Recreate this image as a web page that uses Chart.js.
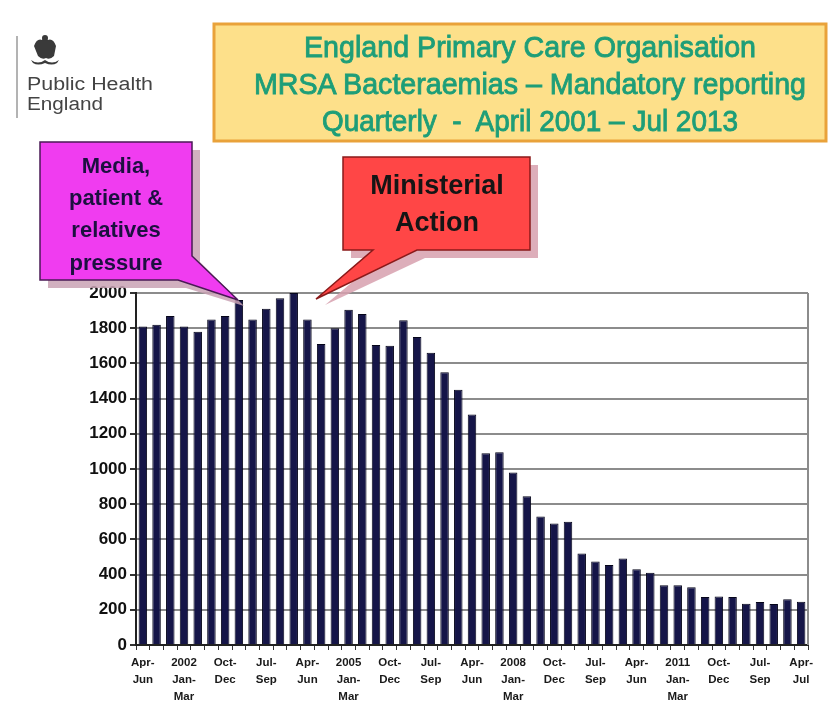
<!DOCTYPE html>
<html>
<head>
<meta charset="utf-8">
<script src="https://cdn.jsdelivr.net/npm/chart.js@4"></script>
<style>
  body { margin: 0; background: #fff; }
  #wrap { position: relative; width: 832px; height: 704px; overflow: hidden; }
  #chart { position: absolute; left: 0; top: 0; }
  #overlay { position: absolute; left: 0; top: 0; pointer-events: none; }
</style>
</head>
<body>
<div id="wrap">
  <canvas id="chart" width="832" height="704"></canvas>
  <svg id="overlay" width="832" height="704" xmlns="http://www.w3.org/2000/svg">
    <!-- logo -->
    <line x1="17" y1="36" x2="17" y2="118" stroke="#9a9a9a" stroke-width="1.5"/>
    <g fill="#3a3a3a">
      <path d="M34 46 q3 -8 8 -6 q2 -5 6 0 q5 -2 8 6 l-2 10 q-4 4 -8 2 q-4 2 -8 -2 z"/>
      <circle cx="45" cy="38" r="3"/>
      <path d="M31 60 q7 5 14 0 q7 5 14 0 l-2 3 q-5 3 -12 0 q-7 3 -12 0 z"/>
    </g>
    <text x="27" y="90" font-family="Liberation Sans, Arial, sans-serif" font-size="18" fill="#444" textLength="126" lengthAdjust="spacingAndGlyphs">Public Health</text>
    <text x="27" y="110" font-family="Liberation Sans, Arial, sans-serif" font-size="18" fill="#444" textLength="76" lengthAdjust="spacingAndGlyphs">England</text>

    <!-- title box -->
    <rect x="214" y="24" width="612" height="117" fill="#fde08a" stroke="#e9a23a" stroke-width="3"/>
    <g font-family="Liberation Sans, Arial, sans-serif" font-size="30" fill="#1e9e78" stroke="#1e9e78" stroke-width="0.9" text-anchor="middle">
      <text x="530" y="57" textLength="452" lengthAdjust="spacingAndGlyphs">England Primary Care Organisation</text>
      <text x="530" y="94" textLength="552" lengthAdjust="spacingAndGlyphs">MRSA Bacteraemias – Mandatory reporting</text>
      <text x="530" y="131" textLength="416" lengthAdjust="spacingAndGlyphs">Quarterly&#160; -&#160; April 2001 – Jul 2013</text>
    </g>

    <!-- magenta callout -->
    <polygon points="48,150 200,150 200,262 244,306 186,288 48,288" fill="#c9a2b4" opacity="0.85"/>
    <polygon points="40,142 192,142 192,256 238,300 178,280 40,280" fill="#f03cf0" stroke="#4a1a55" stroke-width="1.5"/>
    <g font-family="Liberation Sans, Arial, sans-serif" font-weight="bold" font-size="22" fill="#1c1040" text-anchor="middle">
      <text x="116" y="173">Media,</text>
      <text x="116" y="205">patient &amp;</text>
      <text x="116" y="237">relatives</text>
      <text x="116" y="270">pressure</text>
    </g>

    <!-- red callout -->
    <polygon points="351,165 538,165 538,258 425,258 325,305 381,258 351,258" fill="#d7a0ae" opacity="0.85"/>
    <polygon points="343,157 530,157 530,250 417,250 316,299 373,250 343,250" fill="#ff4646" stroke="#8a1a1a" stroke-width="1.5"/>
    <g font-family="Liberation Sans, Arial, sans-serif" font-weight="bold" font-size="27" fill="#151515" text-anchor="middle">
      <text x="437" y="194">Ministerial</text>
      <text x="437" y="231">Action</text>
    </g>
  </svg>
</div>
<script>
const quarters = [
  'Apr-Jun 2001', 'Jul-Sep 2001', 'Oct-Dec 2001', 'Jan-Mar 2002',
  'Apr-Jun 2002', 'Jul-Sep 2002', 'Oct-Dec 2002', 'Jan-Mar 2003',
  'Apr-Jun 2003', 'Jul-Sep 2003', 'Oct-Dec 2003', 'Jan-Mar 2004',
  'Apr-Jun 2004', 'Jul-Sep 2004', 'Oct-Dec 2004', 'Jan-Mar 2005',
  'Apr-Jun 2005', 'Jul-Sep 2005', 'Oct-Dec 2005', 'Jan-Mar 2006',
  'Apr-Jun 2006', 'Jul-Sep 2006', 'Oct-Dec 2006', 'Jan-Mar 2007',
  'Apr-Jun 2007', 'Jul-Sep 2007', 'Oct-Dec 2007', 'Jan-Mar 2008',
  'Apr-Jun 2008', 'Jul-Sep 2008', 'Oct-Dec 2008', 'Jan-Mar 2009',
  'Apr-Jun 2009', 'Jul-Sep 2009', 'Oct-Dec 2009', 'Jan-Mar 2010',
  'Apr-Jun 2010', 'Jul-Sep 2010', 'Oct-Dec 2010', 'Jan-Mar 2011',
  'Apr-Jun 2011', 'Jul-Sep 2011', 'Oct-Dec 2011', 'Jan-Mar 2012',
  'Apr-Jun 2012', 'Jul-Sep 2012', 'Oct-Dec 2012', 'Jan-Mar 2013',
  'Apr-Jul 2013'
];

// MRSA bacteraemia counts per quarter
const mrsaCounts = [
  1810, 1820, 1870, 1810, 1780, 1850, 1870, 1960, 1850, 1910, 1970, 2000,
  1850, 1710, 1800, 1905, 1880, 1705, 1700, 1845, 1750, 1660, 1550, 1450,
  1310, 1090, 1095, 980, 845, 730, 690, 700, 520, 475, 455, 492,
  430, 410, 340, 340, 328, 273, 276, 273, 235, 244, 233, 260, 246
];

// shown under every third bar
const tickLabels = [
  ['Apr-', 'Jun'], ['2002', 'Jan-', 'Mar'], ['Oct-', 'Dec'], ['Jul-', 'Sep'],
  ['Apr-', 'Jun'], ['2005', 'Jan-', 'Mar'], ['Oct-', 'Dec'], ['Jul-', 'Sep'],
  ['Apr-', 'Jun'], ['2008', 'Jan-', 'Mar'], ['Oct-', 'Dec'], ['Jul-', 'Sep'],
  ['Apr-', 'Jun'], ['2011', 'Jan-', 'Mar'], ['Oct-', 'Dec'], ['Jul-', 'Sep'],
  ['Apr-', 'Jul']
];
const yTicks = [0, 200, 400, 600, 800, 1000, 1200, 1400, 1600, 1800, 2000];

const rightBorder = {
  id: 'rightBorder',
  afterDraw(chart) {
    const { ctx, chartArea: a } = chart;
    ctx.save();
    ctx.strokeStyle = '#8c8c8c';
    ctx.lineWidth = 2;
    ctx.beginPath();
    ctx.moveTo(a.right, a.top);
    ctx.lineTo(a.right, a.bottom);
    ctx.stroke();
    ctx.restore();
  }
};

new Chart(document.getElementById('chart'), {
  type: 'bar',
  data: {
    labels: quarters,
    datasets: [{
      data: mrsaCounts,
      backgroundColor: '#151548',
      borderColor: '#05051a',
      borderWidth: 1,
      barPercentage: 0.62,
      categoryPercentage: 1
    }]
  },
  options: {
    responsive: false,
    animation: false,
    layout: { padding: { left: 0, right: 24, top: 293, bottom: 0 } },
    plugins: { legend: { display: false }, tooltip: { enabled: false } },
    scales: {
      x: {
        afterFit: s => { s.height = 59; },
        grid: { display: true, drawOnChartArea: false, tickLength: 5, color: '#333', lineWidth: 1 },
        border: { color: '#222', width: 2 },
        ticks: {
          autoSkip: false, maxRotation: 0, padding: 4,
          color: '#1a1a1a',
          font: { family: 'Liberation Sans, Arial, sans-serif', size: 11.5, weight: 'bold', lineHeight: 1.5 },
          callback: (v, i) => i % 3 === 0 ? tickLabels[i / 3] : ''
        }
      },
      y: {
        min: 0, max: 2000,
        afterFit: s => { s.width = 136; },
        afterBuildTicks: s => { s.ticks = yTicks.map(v => ({ value: v })); },
        grid: { color: '#8c8c8c', lineWidth: 2, tickLength: 6, tickColor: '#333' },
        border: { color: '#222', width: 2 },
        ticks: {
          padding: 3,
          color: '#111',
          font: { family: 'Liberation Sans, Arial, sans-serif', size: 17, weight: 'bold' },
          callback: v => String(v)
        }
      }
    }
  },
  plugins: [rightBorder]
});
</script>
</body>
</html>
